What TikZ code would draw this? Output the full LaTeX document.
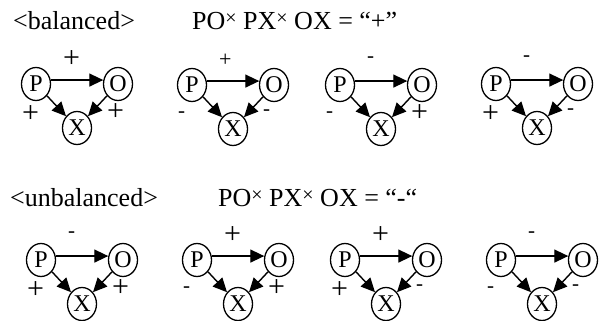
\documentclass[tikz,border=0pt]{standalone}
\usepackage{fontspec}
\setmainfont{Liberation Serif}
\usetikzlibrary{shapes.geometric}
\usetikzlibrary{arrows.meta}
\tikzset{agent/.style = {draw, ellipse, line width=1.3pt, inner sep=0,
                         minimum width=29, minimum height=33,
                         font=\fontsize{24}{24}\selectfont}}
\tikzset{tie/.style = {line width=1.4pt,
                       -{Triangle[length=14pt, width=13pt]}}}
\tikzset{sign/.style = {inner sep=0, anchor=west,
                        font=\fontsize{30}{30}\selectfont}}
\tikzset{title/.style = {inner sep=0, anchor=base west,
                         font=\fontsize{26}{26}\selectfont}}
\newcommand{\crossop}{{\fontsize{20}{20}\selectfont\raisebox{5pt}{×}}}
\newcommand{\smallplus}{{\fontsize{22}{22}\selectfont+}}
\newcommand{\msign}{{\fontsize{21}{21}\selectfont-}}

\begin{document}
\begin{tikzpicture}[x=1pt, y=-1pt]
      \useasboundingbox (0,0) rectangle (602,321);
      \node[title] (bal) at (13,30) {<balanced>};
      \node[title] (balrule) at (192,30) {PO\crossop{} PX\crossop{} OX = “+”};
      \node[title] (unbal) at (10,206) {<unbalanced>};
      \node[title] (unbalrule) at (218,206) {PO\crossop{} PX\crossop{} OX = “-“};
      \foreach \i/\px/\py/\t/\l/\r in {1/36/84/+/+/+, 2/192/85/\smallplus/\msign/\msign,
                                      3/340/85/\msign/\msign/+, 4/496/84/\msign/+/\msign,
                                      5/41/260/\msign/+/+, 6/197/260/+/\msign/+,
                                      7/345/260/+/+/\msign, 8/501/260/\msign/\msign/\msign} {
        \node[agent] (P\i) at (\px,\py) {P};
        \node[agent] (O\i) at (\px+82,\py) {O};
        \node[agent] (X\i) at (\px+41,\py+44) {X};
        \draw[tie] (P\i.15) -- (O\i.165);
        \draw[tie] (P\i) -- (X\i);
        \draw[tie] (O\i) -- (X\i);
        \node[sign] (po\i) at (\px+27,\py-25) {\t};
        \node[sign] (px\i) at (\px-14,\py+30) {\l};
        \node[sign] (ox\i) at (\px+71,\py+28) {\r};
      }
\end{tikzpicture}
\end{document}
